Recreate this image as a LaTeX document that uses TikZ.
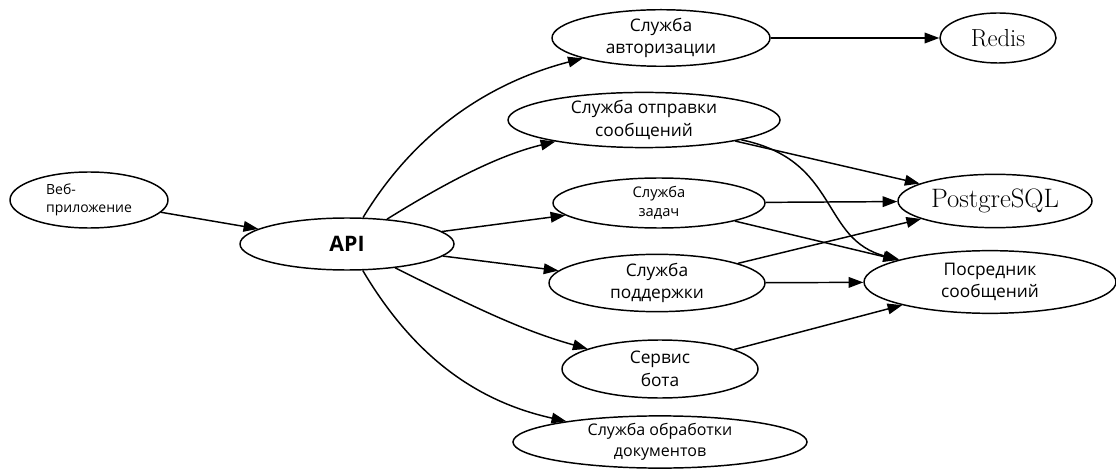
\documentclass[tikz,border=0pt]{standalone}
\usepackage{fontspec}
\usepackage{xcolor}
\usepackage{tikz}
\usetikzlibrary{arrows.meta,shapes.geometric}
\newfontfamily\uifont{Open Sans}
\definecolor{bg}{HTML}{FFFFFF}
\definecolor{ink}{HTML}{000000}
\tikzset{
  svc/.style={draw=ink, ellipse, line width=1.1pt, inner sep=0pt, align=center, font=\uifont, text=ink},
  store/.style={svc, font=\rmfamily},
  link/.style={draw=ink, line width=1.1pt, -{Triangle[length=11pt, width=8pt]}},
}
\newcommand{\fs}[1]{\fontsize{#1}{1.3\dimexpr #1pt\relax}\selectfont}

\begin{document}
\begin{tikzpicture}[x=0.75pt, y=-0.75pt]
  \fill[bg] (0,0) rectangle (1116,470);
  \useasboundingbox (0,0) rectangle (1116,470);

  \node[svc, minimum width=118.5pt, minimum height=42pt, align=left, font=\uifont\fs{10.5}] (web) at (89,200) {Веб-\\приложение};
  \node[svc, minimum width=160.5pt, minimum height=39pt, font=\uifont\bfseries\fs{16}] (api) at (347,244) {API};

  \node[svc, minimum width=163.5pt, minimum height=39pt, font=\uifont\fs{13}] (auth) at (661,38) {Служба\\авторизации};
  \node[svc, minimum width=204pt, minimum height=41pt, font=\uifont\fs{13}] (msg) at (644,120) {Служба отправки\\сообщений};
  \node[svc, minimum width=159pt, minimum height=37.5pt, font=\uifont\fs{11}] (tasks) at (659,203) {Служба\\задач};
  \node[svc, minimum width=162pt, minimum height=43pt, font=\uifont\fs{13}] (support) at (657,283) {Служба\\поддержки};
  \node[svc, minimum width=147pt, minimum height=43.5pt, font=\uifont\fs{13}] (bot) at (660,369) {Сервис\\бота};
  \node[svc, minimum width=220.5pt, minimum height=36pt, font=\uifont\fs{12}] (docs) at (660,442) {Служба обработки\\документов};

  \node[store, minimum width=87pt, minimum height=37.5pt, font=\rmfamily\fs{18.5}] (redis) at (998,38) {Redis};
  \node[store, minimum width=145.5pt, minimum height=40pt, font=\rmfamily\fs{20}] (pg) at (995,201) {PostgreSQL};
  \node[svc, minimum width=189pt, minimum height=47pt, font=\uifont\fs{13}] (broker) at (990,282) {Посредник\\сообщений};

  % client side
  \draw[link] (web) -- (api);

  % api to services
  \draw[link] (api) .. controls (410,140) and (480,85) .. (auth);
  \draw[link] (api) .. controls (450,180) and (500,155) .. (msg);
  \draw[link] (api) -- (tasks);
  \draw[link] (api) -- (support);
  \draw[link] (api) .. controls (470,305) and (520,330) .. (bot);
  \draw[link] (api) .. controls (410,350) and (470,400) .. (docs);

  % services to storage
  \draw[link] (auth) -- (redis);
  \draw[link] (msg) -- (pg);
  \draw[link] (msg) .. controls (840,160) and (820,240) .. (broker);
  \draw[link] (tasks) -- (pg);
  \draw[link] (tasks) -- (broker);
  \draw[link] (support) -- (pg);
  \draw[link] (support) -- (broker);
  \draw[link] (bot) -- (broker);
\end{tikzpicture}
\end{document}
